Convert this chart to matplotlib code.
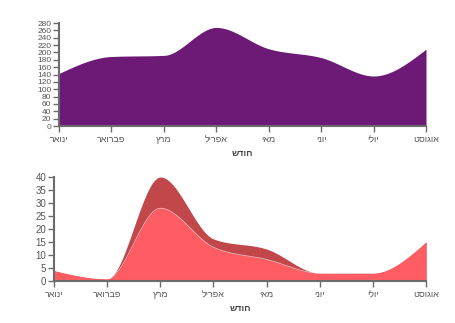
import numpy as np
import matplotlib
matplotlib.use("Agg")
import matplotlib.pyplot as plt

plt.rcParams['font.family'] = ['Liberation Sans', 'DejaVu Sans']

months = ["ינואר", "פברואר", "מרץ", "אפריל", "מאי", "יוני", "יולי", "אוגוסט"]
xlabel = "חודש"

top_values = [143, 189, 192, 268, 210, 186, 136, 209]

bottom_a = [4, 0.8, 28, 13, 8.3, 3, 3, 15]
bottom_b = [0, 0, 12, 3.2, 4, 0, 0, 0]

purple = "#6d1a77"
light_red = "#ff5d63"
dark_red = "#c1474b"
axis_grey = "#6b6b6b"
text_grey = "#555555"


def rtl(s):
    return s[::-1]


def monotone(xs, ys, n=40):
    # monotone cubic like d3.curveMonotoneX
    xs = np.asarray(xs, float)
    ys = np.asarray(ys, float)
    k = len(xs)
    h = np.diff(xs)
    s = np.diff(ys) / h
    t = np.zeros(k)
    for i in range(1, k - 1):
        p = (s[i - 1] * h[i] + s[i] * h[i - 1]) / (h[i - 1] + h[i])
        t[i] = (np.sign(s[i - 1]) + np.sign(s[i])) * min(abs(s[i - 1]), abs(s[i]), 0.5 * abs(p))
    t[0] = (3 * s[0] - t[1]) / 2
    t[-1] = (3 * s[-1] - t[-2]) / 2
    px, py = [], []
    for i in range(k - 1):
        u = np.linspace(0, 1, n, endpoint=(i == k - 2))
        h00 = 2 * u**3 - 3 * u**2 + 1
        h10 = u**3 - 2 * u**2 + u
        h01 = -2 * u**3 + 3 * u**2
        h11 = u**3 - u**2
        px.append(xs[i] + u * h[i])
        py.append(h00 * ys[i] + h10 * h[i] * t[i] + h01 * ys[i + 1] + h11 * h[i] * t[i + 1])
    return np.concatenate(px), np.concatenate(py)


def style_axes(ax, yticks, ysize):
    for side in ["top", "right"]:
        ax.spines[side].set_visible(False)
    for side in ["left", "bottom"]:
        ax.spines[side].set_color(axis_grey)
        ax.spines[side].set_linewidth(1.5)
    ax.set_xlim(0, len(months) - 1)
    ax.set_xticks(range(len(months)))
    ax.set_xticklabels([rtl(m) for m in months])
    ax.set_yticks(yticks)
    ax.set_ylim(yticks[0], yticks[-1])
    ax.tick_params(axis="both", colors=axis_grey, labelcolor=text_grey, labelsize=6.5, length=4, width=1, pad=2.5)
    ax.tick_params(axis="y", labelsize=ysize, pad=1.5)
    ax.set_xlabel(rtl(xlabel), fontsize=6.5, fontweight="bold", color="#444444")
    ax.xaxis.set_label_coords(0.5, -0.22)


fig = plt.figure(figsize=(4.55, 3.23), dpi=100)

ax1 = fig.add_axes([0.1297, 0.6099, 0.8066, 0.3188])
x = np.arange(len(months))
cx, cy = monotone(x, top_values)
ax1.fill_between(cx, 0, cy, color=purple, linewidth=0)
style_axes(ax1, list(range(0, 281, 20)), 6)

ax2 = fig.add_axes([0.1187, 0.130, 0.8176, 0.322])
lx, ly = monotone(x, bottom_a)
ux, uy = monotone(x, np.array(bottom_a) + np.array(bottom_b))
ax2.fill_between(ux, 0, uy, color=dark_red, linewidth=0)
ax2.fill_between(lx, 0, ly, color=light_red, linewidth=0)
ax2.plot(lx, ly, color="white", linewidth=0.5, alpha=0.7)
style_axes(ax2, list(range(0, 41, 5)), 7)

fig.savefig("out.png", dpi=100)
